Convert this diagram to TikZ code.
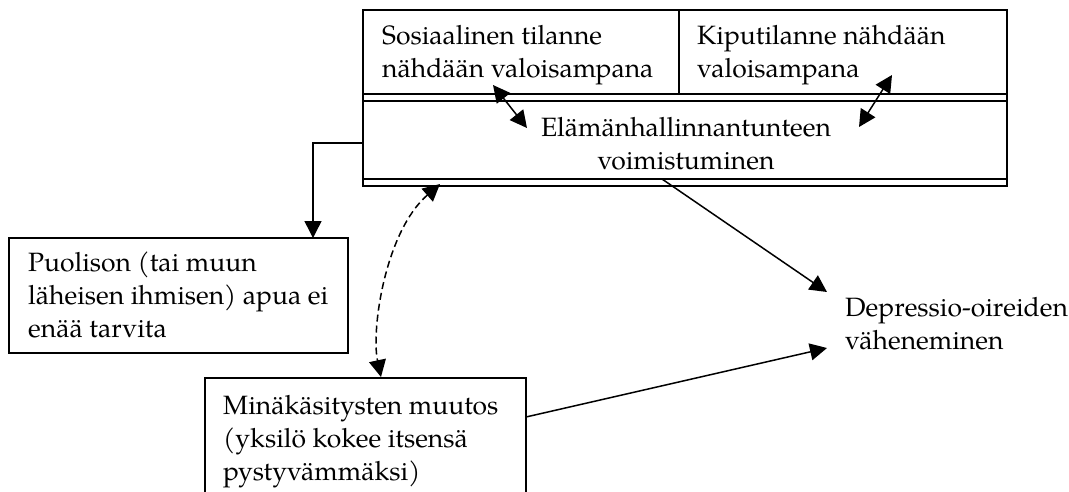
\documentclass[tikz,border=0pt]{standalone}
\usepackage{fontspec}
\setmainfont{TeX Gyre Pagella}
\usetikzlibrary{arrows.meta,calc}
\begin{document}
\begin{tikzpicture}[x=1pt,y=-1pt,
  box/.style={draw,line width=1.5pt,outer sep=0pt,inner sep=0pt,anchor=north west},
  txt/.style={font=\fontsize{26.5}{33}\selectfont,align=left,inner sep=0pt},
  tip/.tip={Triangle[length=17pt,width=17pt]},
  arr/.style={line width=1.5pt,-tip},
  darr/.style={line width=1.5pt,tip-tip}]
\useasboundingbox (0,0) rectangle (1069,491);
\clip (0,0) rectangle (1069,491);
% boxes
\node[box,minimum width=644,minimum height=176] (frame) at (363,10) {};
\node[box,minimum width=316,minimum height=84] (soc) at (363,10) {};
\node[box,minimum width=328,minimum height=84] (pain) at (679,10) {};
\node[box,minimum width=644,minimum height=78] (mid) at (363,101) {};
\node[box,minimum width=339,minimum height=115] (puol) at (9,238) {};
\node[box,minimum width=321,minimum height=130] (mina) at (205,378) {};
% texts
\node[txt,anchor=north west] (socT) at (382,25) {Sosiaalinen tilanne\\nähdään valoisampana};
\node[txt,anchor=north west] (painT) at (697,25) {Kiputilanne nähdään\\valoisampana};
\node[txt,align=center,anchor=north] (midT) at (686,117) {Elämänhallinnantunteen\\voimistuminen};
\node[txt,anchor=north west] (puolT) at (28,252) {Puolison (tai muun\\läheisen ihmisen) apua ei\\enää tarvita};
\node[txt,anchor=north west] (minaT) at (223,395) {Minäkäsitysten muutos\\(yksilö kokee itsensä\\pystyvämmäksi)};
\node[txt,anchor=north west] (dep) at (845,297) {Depressio-oireiden\\väheneminen};
% connectors
\draw[arr] ($(mid.west)+(0,3)$) -| ($(puol.north)+(134.5,0)$);
\draw[arr] ($(mid.south west)+(299,0)$) -- ($(dep.north west)+(-18,-5)$);
\draw[arr] ($(mina.north east)+(0,39)$) -- ($(dep.north west)+(-18,51)$);
\draw[darr] ($(soc.south west)+(130,-9)$) -- ($(mid.north west)+(164,27)$);
\draw[darr] ($(pain.south west)+(213,-19)$) -- ($(mid.north east)+(-148,26)$);
\draw[darr,dash pattern=on 7pt off 4pt] ($(frame.south west)+(77,-2)$) .. controls (385,232) and (371,330) .. ($(mina.north west)+(176,-1)$);
\end{tikzpicture}
\end{document}
